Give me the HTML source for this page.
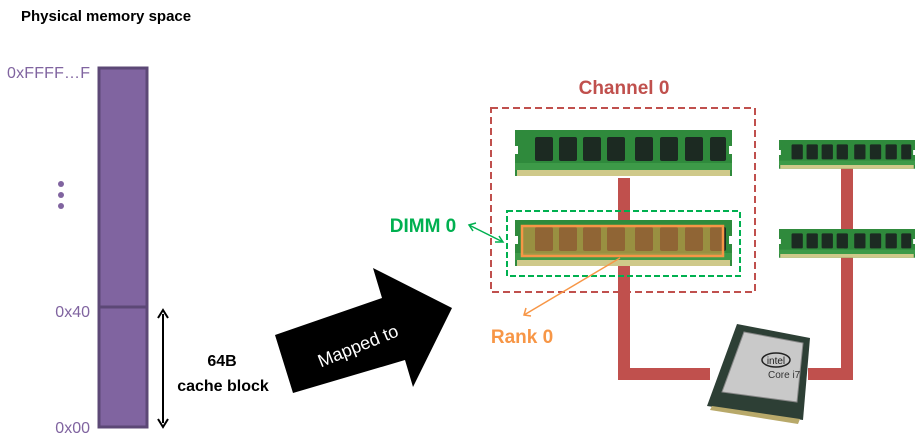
<!DOCTYPE html>
<html><head><meta charset="utf-8"><style>
body{margin:0;background:#fff;width:922px;height:439px;overflow:hidden}
text{font-family:"Liberation Sans",sans-serif}
</style></head><body>
<svg width="922" height="439" viewBox="0 0 922 439" xmlns="http://www.w3.org/2000/svg">
<defs>
<symbol id="dimm" viewBox="0 0 217 48" preserveAspectRatio="none">
<rect x="0" y="0" width="217" height="46" fill="#2f8a3c"/>
<rect x="2" y="40" width="213" height="6" fill="#cfc98a"/>
<rect x="0" y="33" width="217" height="7" fill="#3d9a48"/>
<g fill="#1c2a22">
<rect x="20" y="7" width="18" height="24" rx="2"/><rect x="44" y="7" width="18" height="24" rx="2"/>
<rect x="68" y="7" width="18" height="24" rx="2"/><rect x="92" y="7" width="18" height="24" rx="2"/>
<rect x="104" y="24" width="5" height="7"/>
<rect x="120" y="7" width="18" height="24" rx="2"/><rect x="145" y="7" width="18" height="24" rx="2"/>
<rect x="170" y="7" width="18" height="24" rx="2"/><rect x="195" y="7" width="16" height="24" rx="2"/>
</g>
<rect x="0" y="16" width="3" height="8" fill="#fff"/><rect x="214" y="16" width="3" height="8" fill="#fff"/>
</symbol>
</defs>
<text x="21" y="21" font-size="15" font-weight="bold">Physical memory space</text>
<rect x="99" y="68" width="48" height="359" fill="#8064a0" stroke="#5c4876" stroke-width="3"/>
<line x1="99" y1="307" x2="147" y2="307" stroke="#5c4876" stroke-width="3"/>
<g fill="#8064a0" font-size="16">
<text x="90" y="78" text-anchor="end" textLength="83">0xFFFF…F</text>
<text x="90" y="317" text-anchor="end">0x40</text>
<text x="90" y="433" text-anchor="end">0x00</text>
</g>
<g fill="#8064a0"><circle cx="61" cy="184" r="3"/><circle cx="61" cy="195" r="3"/><circle cx="61" cy="206" r="3"/></g>
<line x1="163" y1="314" x2="163" y2="423" stroke="#000" stroke-width="2"/>
<path d="M158 318 L163 310 L168 318 M158 419 L163 427 L168 419" fill="none" stroke="#000" stroke-width="2"/>
<text x="222" y="366" font-size="16" font-weight="bold" text-anchor="middle">64B</text>
<text x="223" y="391" font-size="16" font-weight="bold" text-anchor="middle">cache block</text>
<polygon points="293,393 275,335 382,298 373,268 452,308 413,387 405,360" fill="#000"/>
<text x="358" y="352" font-size="18" fill="#fff" text-anchor="middle" transform="rotate(-22 358 346)">Mapped to</text>
<g fill="#c0504d">
<rect x="618" y="178" width="12" height="202"/>
<rect x="618" y="368" width="92" height="12"/>
<rect x="808" y="368" width="45" height="12"/>
<rect x="841" y="168" width="12" height="212"/>
</g>
<rect x="491" y="108" width="264" height="184" fill="none" stroke="#c0504d" stroke-width="2" stroke-dasharray="7,4"/>
<text x="624" y="94" font-size="19" font-weight="bold" fill="#c0504d" text-anchor="middle">Channel 0</text>
<use href="#dimm" x="515" y="130" width="217" height="48"/>
<use href="#dimm" x="515" y="220" width="217" height="48"/>
<use href="#dimm" x="779" y="140" width="136" height="30"/>
<use href="#dimm" x="779" y="229" width="136" height="30"/>
<rect x="522" y="226" width="201" height="30" fill="rgba(240,150,70,0.55)" stroke="#f79646" stroke-width="2.5"/>
<rect x="507" y="211" width="233" height="65" fill="none" stroke="#00b050" stroke-width="2" stroke-dasharray="6,3"/>
<text x="423" y="232" font-size="19" font-weight="bold" fill="#00b050" text-anchor="middle">DIMM 0</text>
<line x1="469" y1="225" x2="503" y2="242" stroke="#00b050" stroke-width="1.5"/>
<path d="M476 223 L469 225 L473 231 M495 242 L503 242 L499 236" fill="none" stroke="#00b050" stroke-width="1.5"/>
<text x="522" y="343" font-size="19" font-weight="bold" fill="#f79646" text-anchor="middle">Rank 0</text>
<line x1="524" y1="315" x2="620" y2="258" stroke="#f79646" stroke-width="1.5"/>
<path d="M526 308 L524 315 L531 316" fill="none" stroke="#f79646" stroke-width="1.5"/>
<polygon points="737,324 810,338 803,420 707,406" fill="#2d3f35"/>
<polygon points="744,332 803,343 797,402 722,392" fill="#c9c9c9" stroke="#888" stroke-width="1"/>
<polygon points="712,406 800,419 798,424 710,410" fill="#b8a96a"/>
<ellipse cx="776" cy="360" rx="14" ry="7" fill="none" stroke="#222" stroke-width="1.5"/>
<text x="776" y="364" font-size="10" fill="#222" text-anchor="middle">intel</text>
<text x="768" y="378" font-size="10" fill="#333">Core i7</text>
</svg>
</body></html>
